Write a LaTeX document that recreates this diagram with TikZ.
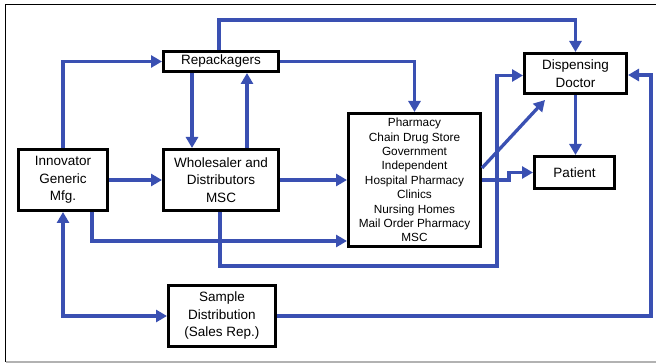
\documentclass[tikz,border=0pt]{standalone}
\usepackage{fontspec}
\setmainfont{Liberation Sans}
\usetikzlibrary{arrows.meta,calc}
\definecolor{flow}{RGB}{58,80,178}
\tikzset{
  box/.style={draw=black,line width=3pt,fill=white,inner sep=0pt,align=center,
    font=\fontsize{13.5}{17.5}\selectfont},
  arr/.style={draw=flow,line width=3.3pt,-{Triangle[length=11pt,width=12pt]}},
  arrboth/.style={draw=flow,line width=3.3pt,{Triangle[length=11pt,width=12pt]}-{Triangle[length=11pt,width=12pt]}},
}
\begin{document}
\begin{tikzpicture}[x=1pt,y=-1pt]
\useasboundingbox (0,0) rectangle (656,363);
\draw[black,line width=1.8pt] (656,4.5) -- (5.5,4.5) -- (5.5,362);
\draw[gray!60,line width=1.4pt] (5.5,362) -- (656,362);

\node[box,minimum width=115pt,minimum height=20pt] (rep) at (221,61.5) {Repackagers};
\node[box,minimum width=89pt,minimum height=61pt] (inn) at (63,180) {Innovator\\Generic\\Mfg.};
\node[box,minimum width=115pt,minimum height=61pt] (whol) at (221,180) {Wholesaler and\\Distributors\\MSC};
\node[box,minimum width=132pt,minimum height=133pt,font=\fontsize{11.8}{14.4}\selectfont] (pharm) at (414.5,180)
  {Pharmacy\\Chain Drug Store\\Government\\Independent\\Hospital Pharmacy\\Clinics\\Nursing Homes\\Mail Order Pharmacy\\MSC};
\node[box,minimum width=102pt,minimum height=40pt] (doc) at (575.5,73.5) {Dispensing\\Doctor};
\node[box,minimum width=80pt,minimum height=32pt] (pat) at (574.5,172.5) {Patient};
\node[box,minimum width=107pt,minimum height=61pt] (samp) at (222,316) {Sample\\Distribution\\(Sales Rep.)};

\coordinate (ctop) at (0,20);
\coordinate (c7a) at (497,266);
\coordinate (c8) at (509,180);
\coordinate (cr) at (651,316);
\coordinate (cdiag) at (545,100);

\draw[arr] (inn.north) |- (rep.west);
\draw[arr] ([xshift=-29pt]rep.south) -- ([xshift=-29pt]whol.north);
\draw[arr] ([xshift=26pt]whol.north) -- ([xshift=26pt]rep.south);
\draw[arr] (inn.east) -- (whol.west);
\draw[arr] (whol.east) -- (pharm.west);
\draw[arr] ([xshift=29pt]inn.south) |- ([yshift=-61pt]pharm.west);
\draw[arr] ([xshift=-1pt]whol.south) |- (c7a) |- ([yshift=-2pt]doc.west);
\draw[arr] (pharm.east) -- (c8) |- (pat.west);
\draw[arr] ([yshift=12pt]pharm.east) -- (cdiag);
\draw[arr] ([xshift=-2pt]rep.north) |- (ctop -| doc.north) -- (doc.north);
\draw[arr] (rep.east) -| (pharm.north);
\draw[arr] (doc.south) -- (doc.south |- pat.north);
\draw[arrboth] (inn.south) |- (samp.west);
\draw[arr] (samp.east) -- (cr) |- ([yshift=-1.5pt]doc.east);
\end{tikzpicture}
\end{document}
